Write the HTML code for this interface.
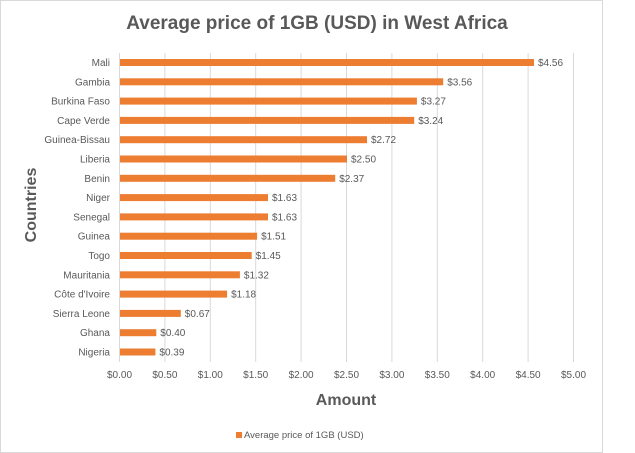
<!DOCTYPE html>
<html><head><style>
body{margin:0;background:#fff;}
svg{display:block;font-family:"Liberation Sans",sans-serif;}
</style></head><body>
<svg width="635" height="453" viewBox="0 0 635 453">
<rect x="0.5" y="0.5" width="602" height="452" fill="#fff" stroke="#d9d9d9"/>
<text x="317" y="29" text-anchor="middle" font-size="19" font-weight="bold" fill="#595959">Average price of 1GB (USD) in West Africa</text>
<g stroke="#d9d9d9" stroke-width="1">
<line x1="119.5" y1="53" x2="119.5" y2="362"/>
<line x1="164.9" y1="53" x2="164.9" y2="362"/>
<line x1="210.3" y1="53" x2="210.3" y2="362"/>
<line x1="255.7" y1="53" x2="255.7" y2="362"/>
<line x1="301.1" y1="53" x2="301.1" y2="362"/>
<line x1="346.5" y1="53" x2="346.5" y2="362"/>
<line x1="391.9" y1="53" x2="391.9" y2="362"/>
<line x1="437.3" y1="53" x2="437.3" y2="362"/>
<line x1="482.7" y1="53" x2="482.7" y2="362"/>
<line x1="528.1" y1="53" x2="528.1" y2="362"/>
<line x1="573.5" y1="53" x2="573.5" y2="362"/>
</g>
<g font-size="10" fill="#595959" text-anchor="middle">
<text x="119.5" y="378">$0.00</text><text x="164.9" y="378">$0.50</text><text x="210.3" y="378">$1.00</text><text x="255.7" y="378">$1.50</text><text x="301.1" y="378">$2.00</text><text x="346.5" y="378">$2.50</text><text x="391.9" y="378">$3.00</text><text x="437.3" y="378">$3.50</text><text x="482.7" y="378">$4.00</text><text x="528.1" y="378">$4.50</text><text x="573.5" y="378">$5.00</text>
</g>
<g fill="#ed7d31">
<rect x="120" y="59.0" width="414.0" height="7"/>
<rect x="120" y="78.3" width="323.2" height="7"/>
<rect x="120" y="97.6" width="296.9" height="7"/>
<rect x="120" y="116.9" width="294.2" height="7"/>
<rect x="120" y="136.2" width="247.0" height="7"/>
<rect x="120" y="155.5" width="227.0" height="7"/>
<rect x="120" y="174.8" width="215.2" height="7"/>
<rect x="120" y="194.1" width="148.0" height="7"/>
<rect x="120" y="213.4" width="148.0" height="7"/>
<rect x="120" y="232.7" width="137.1" height="7"/>
<rect x="120" y="252.0" width="131.7" height="7"/>
<rect x="120" y="271.3" width="119.9" height="7"/>
<rect x="120" y="290.6" width="107.1" height="7"/>
<rect x="120" y="309.9" width="60.8" height="7"/>
<rect x="120" y="329.2" width="36.3" height="7"/>
<rect x="120" y="348.5" width="35.4" height="7"/>
</g>
<g font-size="10" fill="#595959" text-anchor="end">
<text x="110" y="66.0">Mali</text>
<text x="110" y="85.3">Gambia</text>
<text x="110" y="104.6">Burkina Faso</text>
<text x="110" y="123.9">Cape Verde</text>
<text x="110" y="143.2">Guinea-Bissau</text>
<text x="110" y="162.5">Liberia</text>
<text x="110" y="181.8">Benin</text>
<text x="110" y="201.1">Niger</text>
<text x="110" y="220.4">Senegal</text>
<text x="110" y="239.7">Guinea</text>
<text x="110" y="259.0">Togo</text>
<text x="110" y="278.3">Mauritania</text>
<text x="110" y="297.6">Côte d'Ivoire</text>
<text x="110" y="316.9">Sierra Leone</text>
<text x="110" y="336.2">Ghana</text>
<text x="110" y="355.5">Nigeria</text>
</g>
<g font-size="10" fill="#595959">
<text x="538.0" y="66.0">$4.56</text>
<text x="447.2" y="85.3">$3.56</text>
<text x="420.9" y="104.6">$3.27</text>
<text x="418.2" y="123.9">$3.24</text>
<text x="371.0" y="143.2">$2.72</text>
<text x="351.0" y="162.5">$2.50</text>
<text x="339.2" y="181.8">$2.37</text>
<text x="272.0" y="201.1">$1.63</text>
<text x="272.0" y="220.4">$1.63</text>
<text x="261.1" y="239.7">$1.51</text>
<text x="255.7" y="259.0">$1.45</text>
<text x="243.9" y="278.3">$1.32</text>
<text x="231.1" y="297.6">$1.18</text>
<text x="184.8" y="316.9">$0.67</text>
<text x="160.3" y="336.2">$0.40</text>
<text x="159.4" y="355.5">$0.39</text>
</g>
<text x="346" y="405" text-anchor="middle" font-size="16" font-weight="bold" fill="#595959">Amount</text>
<text transform="translate(36,205) rotate(-90)" text-anchor="middle" font-size="16" font-weight="bold" fill="#595959">Countries</text>
<rect x="236" y="432" width="6" height="6" fill="#ed7d31"/>
<text x="244" y="438" font-size="9.5" fill="#595959">Average price of 1GB (USD)</text>
</svg>
</body></html>
